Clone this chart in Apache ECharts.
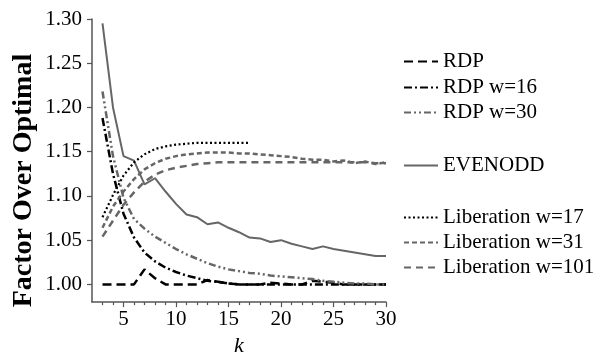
<!DOCTYPE html>
<html>
<head>
<meta charset="utf-8">
<script src="https://cdn.jsdelivr.net/npm/echarts@6/dist/echarts.min.js"></script>
<style>html,body{margin:0;padding:0;background:#fff}#c{width:599px;height:362px}</style>
</head>
<body>
<div id="c"></div>
<script>
var ks = [3,4,5,6,7,8,9,10,11,12,13,14,15,16,17,18,19,20,21,22,23,24,25,26,27,28,29,30];
var rdp = [1.000,1.000,1.000,1.000,1.017,1.007,1.000,1.000,1.000,1.000,1.005,1.003,1.001,1.000,1.000,1.000,1.002,1.001,1.000,1.000,1.004,1.003,1.002,1.000,1.000,1.000,1.000,1.000];
var rdpW16 = [1.188,1.125,1.080,1.053,1.036,1.026,1.019,1.014,1.010,1.007,1.004,1.003,1.001,1.000,1.000,1.000,1.000,1.000,1.000,1.000,1.000,1.000,1.000,1.000,1.000,1.000,1.000,1.000];
var rdpW30 = [1.218,1.145,1.098,1.074,1.063,1.054,1.047,1.040,1.034,1.029,1.024,1.020,1.017,1.015,1.013,1.012,1.010,1.009,1.008,1.007,1.006,1.004,1.003,1.002,1.001,1.001,1.000,1.000];
var evenodd = [1.295,1.200,1.145,1.140,1.113,1.120,1.105,1.091,1.079,1.076,1.068,1.070,1.064,1.059,1.053,1.052,1.048,1.050,1.046,1.043,1.040,1.043,1.040,1.038,1.036,1.034,1.032,1.032];
var libK17 = [3,4,5,6,7,8,9,10,11,12,13,14,15,16,17];
var libW17 = [1.076,1.101,1.123,1.138,1.147,1.153,1.156,1.158,1.159,1.160,1.160,1.160,1.160,1.160,1.160];
var libW31 = [1.064,1.088,1.105,1.119,1.130,1.137,1.142,1.145,1.147,1.148,1.149,1.149,1.149,1.148,1.148,1.147,1.146,1.145,1.144,1.142,1.141,1.141,1.139,1.140,1.137,1.139,1.136,1.138];
var libW101 = [1.054,1.072,1.090,1.104,1.116,1.124,1.129,1.132,1.134,1.136,1.137,1.138,1.138,1.138,1.138,1.138,1.138,1.138,1.138,1.138,1.138,1.138,1.138,1.138,1.138,1.138,1.137,1.137];
var yTicks = [1.00,1.05,1.10,1.15,1.20,1.25,1.30];
var xMajor = [5,10,15,20,25,30];
var xMinor = [3,4,6,7,8,9,11,12,13,14,16,17,18,19,21,22,23,24,26,27,28,29];

function pairs(xs, ys){ return xs.map(function(x,i){ return [x, ys[i]]; }); }

var FONT = "'Liberation Serif', 'Times New Roman', serif";
var BLACK = '#000000', GRAY = '#666666';

var seriesDefs = [
  {name:'RDP', x:ks, y:rdp, color:BLACK, width:2.5, type:[9,5], top:51},
  {name:'RDP w=16', x:ks, y:rdpW16, color:BLACK, width:2.5, type:[8,3,2,3], top:77},
  {name:'RDP w=30', x:ks, y:rdpW30, color:GRAY, width:2.5, type:[7,3,2,3,2,3], top:102},
  {name:'EVENODD', x:ks, y:evenodd, color:GRAY, width:2, type:'solid', top:155},
  {name:'Liberation w=17', x:libK17, y:libW17, color:BLACK, width:2.2, type:[2,2.5], top:207},
  {name:'Liberation w=31', x:ks, y:libW31, color:GRAY, width:2.5, type:[5,3], top:232},
  {name:'Liberation w=101', x:ks, y:libW101, color:GRAY, width:2.5, type:[7,5], top:257}
];

var series = seriesDefs.map(function(d){
  return {
    name: d.name, type:'line', xAxisIndex:0, yAxisIndex:0,
    data: pairs(d.x, d.y), symbol:'none', smooth:false, animation:false,
    lineStyle:{color:d.color, width:d.width, type:d.type},
    itemStyle:{color:d.color}
  };
});

var legends = seriesDefs.map(function(d){
  return {
    data:[d.name], left:403, top:d.top, orient:'vertical',
    itemWidth:34, itemHeight:14, itemGap:0, padding:0,
    itemStyle:{opacity:0},
    textStyle:{fontFamily:FONT, fontSize:21, color:'#000'},
    selectedMode:false
  };
});

var option = {
  backgroundColor:'#fff',
  animation:false,
  grid:{left:92, top:19, right:213, bottom:50, containLabel:false},
  legend: legends,
  xAxis:[{
    type:'value', min:2, max:30, position:'bottom',
    name:'k', nameLocation:'middle', nameGap:26,
    nameTextStyle:{fontFamily:FONT, fontSize:22, fontStyle:'italic', color:'#000'},
    axisLine:{show:true, lineStyle:{color:'#555', width:1.5}},
    axisTick:{show:true, length:5, inside:false, customValues:xMajor, lineStyle:{color:'#555', width:1.2}},
    axisLabel:{show:true, customValues:xMajor, margin:7, fontFamily:FONT, fontSize:21, color:'#000'},
    splitLine:{show:false}
  },{
    type:'value', min:2, max:30, position:'bottom', gridIndex:0,
    axisLine:{show:false},
    axisTick:{show:true, length:3, customValues:xMinor, lineStyle:{color:'#555', width:1.2}},
    axisLabel:{show:false},
    splitLine:{show:false}
  }],
  yAxis:[{
    type:'value', min:0.98, max:1.30,
    name:'Factor Over Optimal', nameLocation:'middle', nameGap:54, nameRotate:90,
    nameTextStyle:{fontFamily:FONT, fontSize:28, fontWeight:'bold', color:'#000', padding:[0,40,0,0]},
    axisLine:{show:true, lineStyle:{color:'#555', width:1.5}},
    axisTick:{show:true, length:5, customValues:yTicks, lineStyle:{color:'#555', width:1.2}},
    axisLabel:{show:true, customValues:yTicks, margin:10, fontFamily:FONT, fontSize:21, color:'#000',
      formatter:function(v){ return v.toFixed(2); }},
    splitLine:{show:false}
  }],
  series: series
};

var chart = echarts.init(document.getElementById('c'), null, {renderer:'canvas'});
chart.setOption(option);
</script>
</body>
</html>
